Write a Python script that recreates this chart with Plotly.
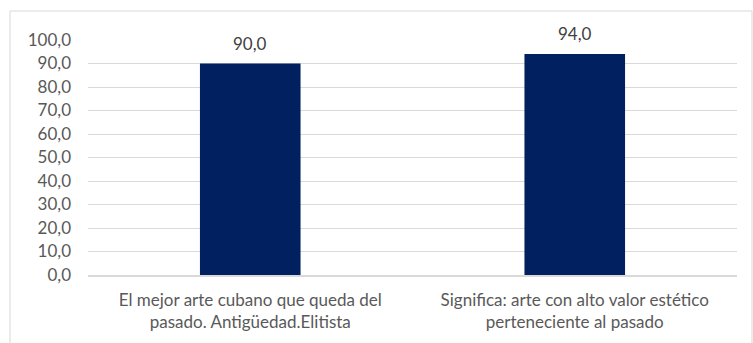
import plotly.graph_objects as go

categories = [
    "El mejor arte cubano que queda del<br>pasado. Antigüedad.Elitista",
    "Significa: arte con alto valor estético<br>perteneciente al pasado",
]
values = [90.0, 94.0]
y_ticks = [0, 10, 20, 30, 40, 50, 60, 70, 80, 90, 100]

FONT = "Lato"
FONT_SIZE = 17
TEXT_GREY = "#595959"
BAR_COLOR = "#002060"

fig = go.Figure(
    go.Bar(
        x=categories,
        y=values,
        marker=dict(color=BAR_COLOR, line=dict(width=0)),
        width=0.31,
        hoverinfo="skip",
    )
)

# value labels above each bar
for cat, val in zip(categories, values):
    fig.add_annotation(
        x=cat, y=val, text=f"{val:.1f}".replace(".", ","),
        showarrow=False, yanchor="bottom", yshift=8,
        font=dict(family=FONT, size=FONT_SIZE, color="#404040"),
    )

# outer chart frame
fig.add_shape(
    type="rect", xref="paper", yref="paper",
    x0=-0.1202, x1=1.0231, y0=-0.5, y1=1.1234,
    line=dict(color="#d9d9d9", width=1), fillcolor="rgba(0,0,0,0)",
    layer="below",
)

fig.update_layout(
    width=753, height=343,
    margin=dict(l=88, r=16, t=40, b=68),
    paper_bgcolor="white", plot_bgcolor="white",
    separators=",.",
    showlegend=False,
    font=dict(family=FONT, size=FONT_SIZE, color=TEXT_GREY),
    bargap=0.69,
)
fig.update_yaxes(
    range=[0, 100], tickvals=y_ticks, tickformat=".1f",
    showgrid=True, gridcolor="#d9d9d9", gridwidth=1,
    zeroline=False, showline=False, ticks="",
    ticklabelstandoff=16, automargin=False,
    tickfont=dict(family=FONT, size=FONT_SIZE, color=TEXT_GREY),
)
fig.update_xaxes(
    showline=True, linecolor="#d9d9d9", linewidth=1.5,
    ticks="", showgrid=False,
    ticklabelstandoff=9, automargin=False,
    tickfont=dict(family=FONT, size=FONT_SIZE, color=TEXT_GREY),
)

fig.write_html("out.html")
